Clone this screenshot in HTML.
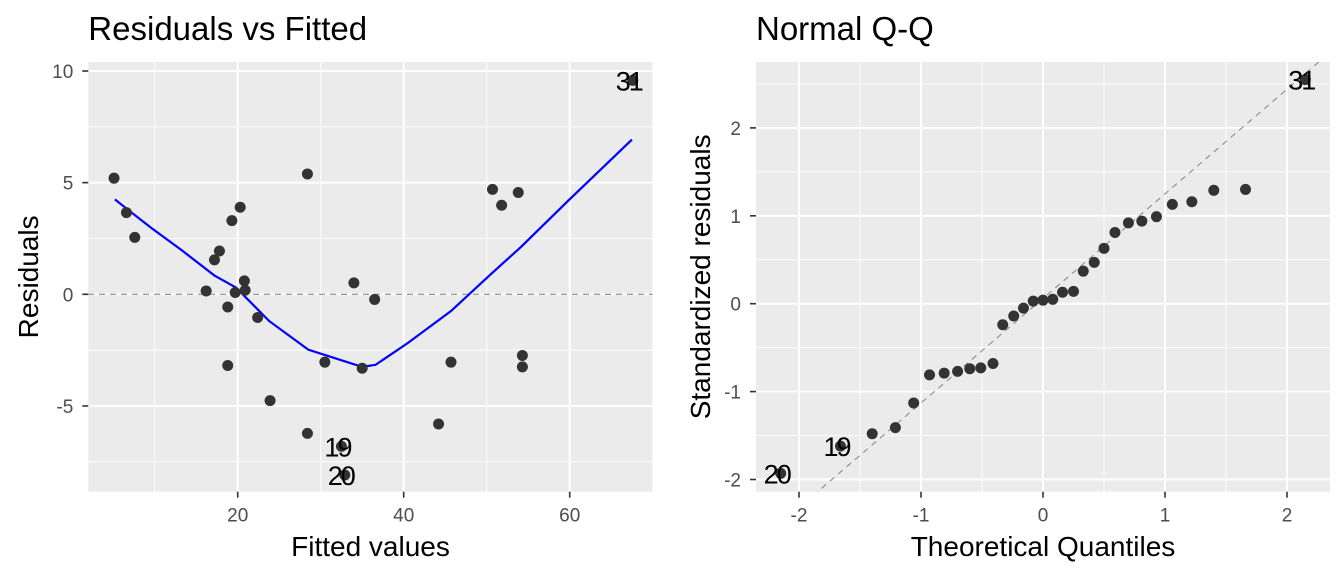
<!DOCTYPE html>
<html><head><meta charset="utf-8"><style>
body{margin:0;background:#fff;}
svg{display:block;font-family:"Liberation Sans",Arial,sans-serif;}
</style></head><body>
<svg id="c" width="1344" height="576" viewBox="0 0 1344 576"></svg>
<script>
// Residuals vs Fitted data
const fittedVals=[5.1,6.6,7.6,16.2,17.2,17.8,18.8,18.8,19.3,19.7,20.3,20.8,20.9,22.4,23.9,28.4,28.4,30.5,32.5,32.9,34.0,35.0,36.5,44.2,45.7,50.7,51.8,53.8,54.3,54.3,67.6];
const residVals=[5.2,3.66,2.55,0.15,1.54,1.94,-0.57,-3.19,3.30,0.08,3.90,0.60,0.18,-1.04,-4.76,5.39,-6.23,-3.04,-6.81,-8.09,0.51,-3.31,-0.23,-5.81,-3.04,4.70,3.99,4.56,-2.74,-3.25,9.58];
const residLabels=["","","","","","","","","","","","","","","","","","","19","20","","","","","","","","","","","31"];
const smoothX=[5.2,6.6,9.6,13.3,17.2,19.8,23.8,28.5,31.1,35.0,36.6,40.5,45.7,50.5,54.1,59.9,67.5];
const smoothY=[4.25,3.84,2.97,1.96,0.84,0.30,-1.20,-2.48,-2.79,-3.25,-3.16,-2.18,-0.75,0.9,2.11,4.22,6.93];
const xTicksL=[20,40,60];
const yTicksL=[-5,0,5,10];
// Normal Q-Q data
const theoQ=[-2.15,-1.66,-1.40,-1.21,-1.06,-0.93,-0.81,-0.70,-0.60,-0.51,-0.41,-0.33,-0.24,-0.16,-0.08,0,0.08,0.16,0.25,0.33,0.42,0.50,0.59,0.70,0.81,0.93,1.06,1.22,1.40,1.66,2.15];
const stdResid=[-1.93,-1.62,-1.48,-1.41,-1.13,-0.81,-0.79,-0.77,-0.74,-0.73,-0.68,-0.24,-0.14,-0.05,0.03,0.04,0.05,0.13,0.14,0.37,0.47,0.63,0.81,0.92,0.94,0.99,1.13,1.16,1.29,1.30,2.55];
const qqLabels=["20","19","","","","","","","","","","","","","","","","","","","","","","","","","","","","","31"];
const qqLine=[1.19,0.06];
const xTicksR=[-2,-1,0,1,2];
const yTicksR=[-2,-1,0,1,2];

const svg=document.getElementById('c');
const NS='http://www.w3.org/2000/svg';
function mk(tag,attrs,parent){const e=document.createElementNS(NS,tag);for(const k in attrs)e.setAttribute(k,attrs[k]);(parent||svg).appendChild(e);return e;}

function panel(o){
  const g=mk('g',{});
  
  
  const sx=v=>o.x0+(v-o.xmin)/(o.xmax-o.xmin)*(o.x1-o.x0);
  const sy=v=>o.y1-(v-o.ymin)/(o.ymax-o.ymin)*(o.y1-o.y0);
  const bg=mk('rect',{x:o.x0,y:o.y0,width:o.x1-o.x0,height:o.y1-o.y0,fill:'#ebebeb'},g);
  
  
  const cp='clip-'+o.name;
  const cl=mk('clipPath',{id:cp},g);mk('rect',{x:o.x0,y:o.y0,width:o.x1-o.x0,height:o.y1-o.y0},cl);
  const inner=mk('g',{'clip-path':'url(#'+cp+')'},g);
  const dx=o.xt[1]-o.xt[0], dy=o.yt[1]-o.yt[0];
  for(let v=o.xt[0]-dx*1.5;v<=o.xmax;v+=dx) if(v>=o.xmin) mk('line',{x1:sx(v),x2:sx(v),y1:o.y0,y2:o.y1,stroke:'#fff','stroke-width':0.9},inner);
  for(let v=o.yt[0]-dy*1.5;v<=o.ymax;v+=dy) if(v>=o.ymin) mk('line',{y1:sy(v),y2:sy(v),x1:o.x0,x2:o.x1,stroke:'#fff','stroke-width':0.9},inner);
  o.xt.forEach(v=>{mk('line',{x1:sx(v),x2:sx(v),y1:o.y0,y2:o.y1,stroke:'#fff','stroke-width':1.9},inner);
    mk('line',{x1:sx(v),x2:sx(v),y1:o.y1,y2:o.y1+6,stroke:'#333','stroke-width':1.6},g);
    const t=mk('text',{x:sx(v),y:o.y1+30,'font-size':19,fill:'#4d4d4d','text-anchor':'middle'},g);t.textContent=v;
    });
  o.yt.forEach(v=>{mk('line',{y1:sy(v),y2:sy(v),x1:o.x0,x2:o.x1,stroke:'#fff','stroke-width':1.9},inner);
    mk('line',{y1:sy(v),y2:sy(v),x1:o.x0-6,x2:o.x0,stroke:'#333','stroke-width':1.6},g);
    const t=mk('text',{x:o.x0-15,y:sy(v)+7,'font-size':19,fill:'#4d4d4d','text-anchor':'end'},g);t.textContent=v;
    });
  o.extra(inner,sx,sy);
  o.px.forEach((v,i)=>{const c=mk('circle',{cx:sx(v),cy:sy(o.py[i]),r:5.5,fill:'#333'},inner);
    
    if(o.lab[i]){const t=mk('text',{x:sx(v)-4,y:sy(o.py[i])+10,'font-size':27,fill:'#000','text-anchor':'middle','letter-spacing':'-2'},g);t.textContent=o.lab[i];
      }});
  const tt=mk('text',{x:o.x0,y:40,'font-size':33,fill:'#000'},g);tt.textContent=o.title;
  
  const xt=mk('text',{x:(o.x0+o.x1)/2,y:556,'font-size':28,fill:'#000','text-anchor':'middle'},g);xt.textContent=o.xlab;
  
  const yx=o.ytx,yy=(o.y0+o.y1)/2;
  const yt=mk('text',{x:yx,y:yy,'font-size':28,fill:'#000','text-anchor':'middle',transform:'rotate(-90 '+yx+' '+yy+')'},g);yt.textContent=o.ylab;
  
}

panel({name:'residuals-vs-fitted',title:'Residuals vs Fitted',xlab:'Fitted values',ylab:'Residuals',ytx:38,
  x0:88.3,x1:652.7,y0:62,y1:491.7,xmin:(88.3-71.7)/8.3,xmax:(652.7-71.7)/8.3,ymin:-(491.7-294.3)/22.33,ymax:(294.3-62)/22.33,
  xt:xTicksL,yt:yTicksL,px:fittedVals,py:residVals,lab:residLabels,
  extra:(g,sx,sy)=>{
    const z=mk('line',{x1:88,x2:653,y1:sy(0),y2:sy(0),stroke:'#8c8c8c','stroke-width':1.1,'stroke-dasharray':'6,5'},g);
    
    const p=mk('polyline',{points:smoothX.map((v,i)=>sx(v)+','+sy(smoothY[i])).join(' '),fill:'none',stroke:'#0000ff','stroke-width':2.2},g);
    
  }});

panel({name:'normal-qq',title:'Normal Q-Q',xlab:'Theoretical Quantiles',ylab:'Standardized residuals',ytx:710,
  x0:756,x1:1330,y0:62,y1:491.7,xmin:(756-1043)/122,xmax:(1330-1043)/122,ymin:-(491.7-303.7)/87.9,ymax:(303.7-62)/87.9,
  xt:xTicksR,yt:yTicksR,px:theoQ,py:stdResid,lab:qqLabels,
  extra:(g,sx,sy)=>{
    const a=-2.5,b=2.5;
    const l=mk('line',{x1:sx(a),y1:sy(qqLine[0]*a+qqLine[1]),x2:sx(b),y2:sy(qqLine[0]*b+qqLine[1]),stroke:'#8c8c8c','stroke-width':1.1,'stroke-dasharray':'6,5'},g);
    
  }});
</script>
</body></html>
